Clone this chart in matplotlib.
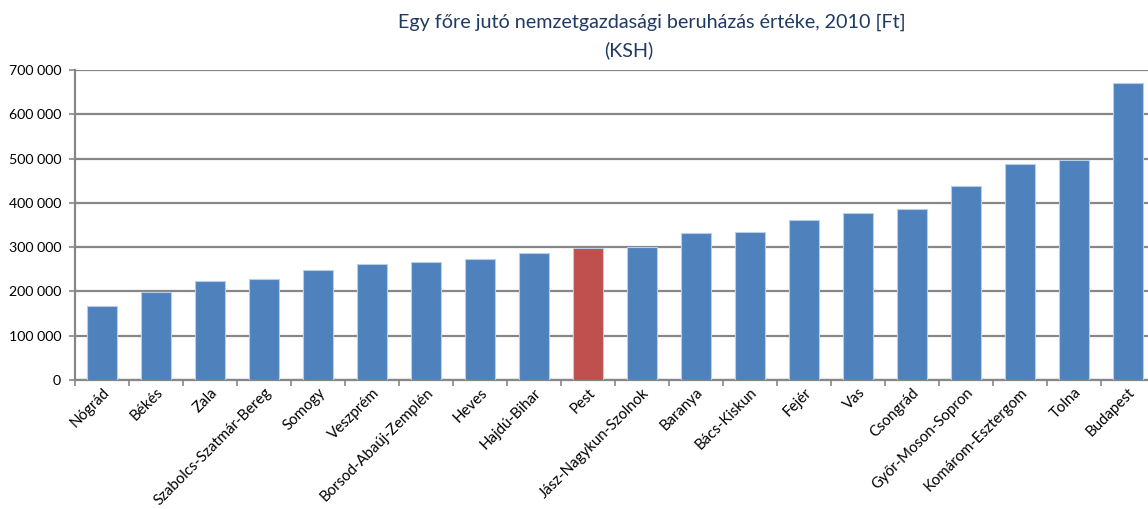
import numpy as np
import matplotlib
matplotlib.use("Agg")
import matplotlib.pyplot as plt
from matplotlib.ticker import FuncFormatter

# ── data ────────────────────────────────────────────────
counties = ["Nógrád", "Békés", "Zala", "Szabolcs-Szatmár-Bereg", "Somogy",
            "Veszprém", "Borsod-Abaúj-Zemplén", "Heves", "Hajdú-Bihar", "Pest",
            "Jász-Nagykun-Szolnok", "Baranya", "Bács-Kiskun", "Fejér", "Vas",
            "Csongrád", "Győr-Moson-Sopron", "Komárom-Esztergom", "Tolna", "Budapest"]
values = [166000, 198500, 224000, 229000, 248000,
          262000, 267000, 274000, 287000, 299000,
          300000, 331000, 335000, 361000, 378000,
          385000, 438000, 488000, 496000, 670000]
highlight = "Pest"

title_lines = ["Egy főre jutó nemzetgazdasági beruházás értéke, 2010 [Ft]", "(KSH)"]

# ── style ───────────────────────────────────────────────
plt.rcParams['font.family'] = ['Lato', 'DejaVu Sans']
BLUE = '#4F81BD'
RED = '#C0504D'
GRID = '#878787'

W, H = 1148, 509
fig = plt.figure(figsize=(W / 100, H / 100), dpi=100)
ax = fig.add_axes([75 / W, (H - 380) / H, 1080 / W, 310 / H])

x = np.arange(len(counties))
colors = [RED if c == highlight else BLUE for c in counties]
ax.bar(x, values, width=0.56, color=colors, edgecolor='#B9CDE5', linewidth=0.8, zorder=3)

ax.set_xlim(-0.5, len(counties) - 0.5)
ax.set_ylim(0, 700000)
ax.set_yticks(np.arange(0, 700001, 100000))
ax.yaxis.set_major_formatter(FuncFormatter(lambda v, p: f"{int(v):,}".replace(",", " ")))
ax.grid(axis='y', color=GRID, linewidth=1.6, zorder=0)

# category ticks sit between bars, labels under the bar centres
ax.set_xticks(x - 0.5, minor=False)
ax.set_xticklabels([])
ax.set_xticks(x, minor=True)
ax.set_xticklabels(counties, minor=True, rotation=45, ha='right', va='top',
                   rotation_mode='anchor', fontsize=10.8)
ax.tick_params(axis='x', which='minor', length=0, pad=4)
ax.tick_params(axis='x', which='major', length=4, color=GRID, width=1.2)
ax.tick_params(axis='y', length=4, color=GRID, width=1.2, labelsize=10.2, pad=6)

for s in ['top', 'right']:
    ax.spines[s].set_visible(False)
for s in ['left', 'bottom']:
    ax.spines[s].set_color(GRID)
    ax.spines[s].set_linewidth(1.6)

fig.text(652 / W, 1 - 22 / H, title_lines[0], ha='center', va='center',
         fontsize=14.2, color='#1F3A64')
fig.text(629 / W, 1 - 50 / H, title_lines[1], ha='center', va='center',
         fontsize=14.2, color='#1F3A64')

fig.savefig('out.png', dpi=100)
